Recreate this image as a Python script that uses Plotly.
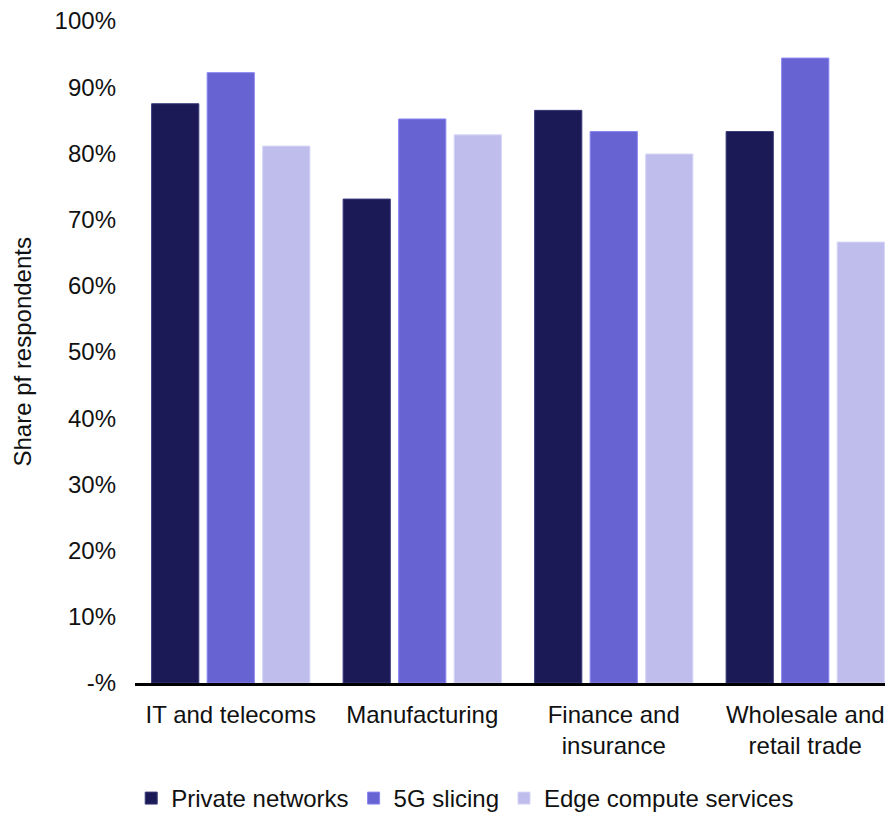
import plotly.graph_objects as go

categories = ["IT and telecoms", "Manufacturing", "Finance and<br>insurance", "Wholesale and<br>retail trade"]
private_networks = [87.5, 73.1, 86.5, 83.3]
slicing_5g = [92.2, 85.2, 83.3, 94.4]
edge_compute = [81.1, 82.8, 79.9, 66.6]
series_names = ["Private networks", "5G slicing", "Edge compute services"]
tick_vals = [0, 10, 20, 30, 40, 50, 60, 70, 80, 90, 100]
tick_text = ["-%", "10%", "20%", "30%", "40%", "50%", "60%", "70%", "80%", "90%", "100%"]

colors = ["#1B1A57", "#6763D2", "#BFBDEC"]
outline = ["#3a3a7a", "#8a86f0", "#d6d4f7"]
FONT = "Liberation Sans"
FS = 24

fig = go.Figure()
for name, vals, c, oc in zip(series_names, [private_networks, slicing_5g, edge_compute], colors, outline):
    fig.add_trace(go.Bar(x=categories, y=vals, name=name,
                         marker=dict(color=c, line=dict(color=oc, width=1))))

fig.update_layout(
    width=893, height=813,
    paper_bgcolor="white", plot_bgcolor="white",
    barmode="group", bargap=0.13, bargroupgap=0.15,
    margin=dict(l=127, r=0, t=12, b=138),
    font=dict(family=FONT, size=FS, color="#111111"),
    xaxis=dict(showline=True, linecolor="black", linewidth=2.5, ticks="",
               tickfont=dict(size=FS), showgrid=False, ticklabelstandoff=8),
    yaxis=dict(range=[0, 100.15], tickvals=tick_vals, ticktext=tick_text,
               showgrid=False, zeroline=False, showline=False, ticks="",
               tickfont=dict(size=FS), ticklabelstandoff=18,
               ticklabeloverflow="allow"),
    legend=dict(orientation="h", xref="container", yref="container",
                x=0.512, xanchor="center", y=0.0, yanchor="bottom",
                font=dict(size=FS), itemwidth=30, traceorder="normal"),
    annotations=[dict(text="Share pf respondents", xref="paper", yref="paper",
                      x=-0.1475, y=0.5, xanchor="center", yanchor="middle",
                      textangle=-90, showarrow=False, font=dict(size=FS))],
)

fig.write_html("out.html")
